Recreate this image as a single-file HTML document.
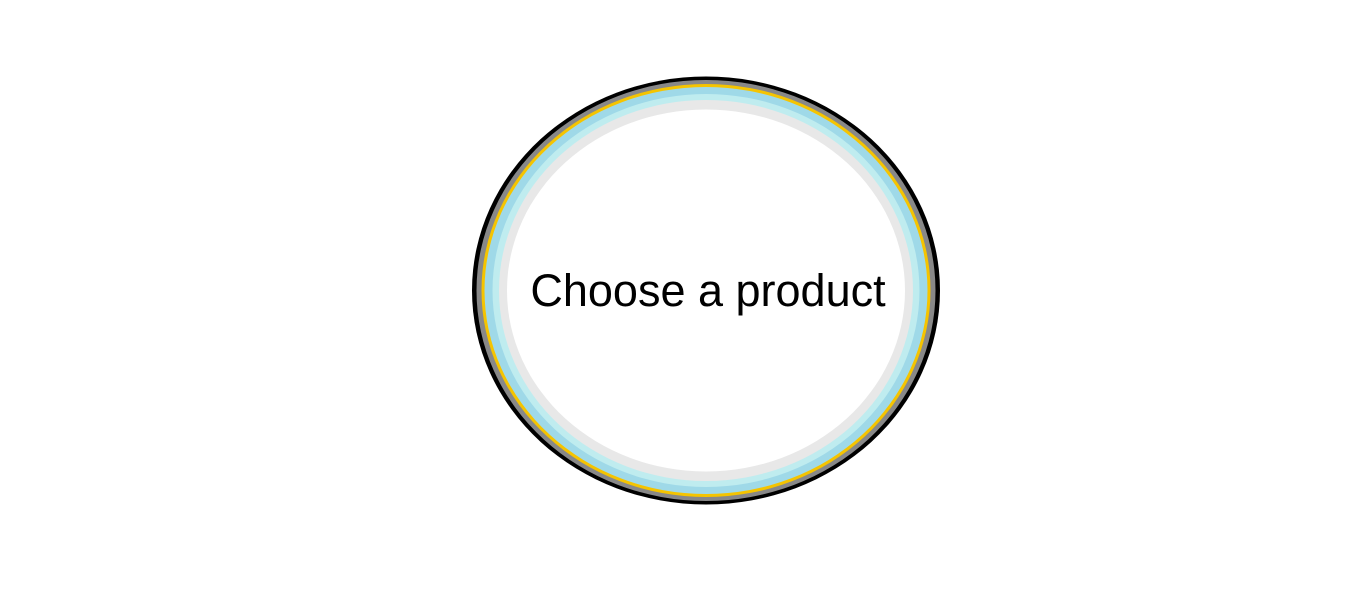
<!DOCTYPE html>
<html><head><meta charset="utf-8"><style>
html,body{margin:0;padding:0;background:#fff;width:1354px;height:616px;overflow:hidden}
svg{display:block}
</style></head><body>
<svg width="1354" height="616">
<g>
<ellipse cx="706" cy="290.5" rx="234" ry="214" fill="#000"/>
<ellipse cx="706" cy="290.5" rx="229.5" ry="210.5" fill="#888"/>
<ellipse cx="706" cy="290.5" rx="224.5" ry="206.5" fill="#f5c400"/>
<ellipse cx="706" cy="290.5" rx="221.5" ry="203.5" fill="#9fd9e8"/>
<ellipse cx="706" cy="290.5" rx="213.5" ry="196.5" fill="#bfecef"/>
<ellipse cx="706" cy="290.5" rx="207" ry="190.5" fill="#e8e8e8"/>
<ellipse cx="706" cy="290.5" rx="199" ry="181" fill="#fff"/>
</g>
<text x="708" y="306" text-anchor="middle" font-family="Liberation Sans, sans-serif" font-size="45" fill="#000">Choose a product</text>
</svg>
</body></html>
